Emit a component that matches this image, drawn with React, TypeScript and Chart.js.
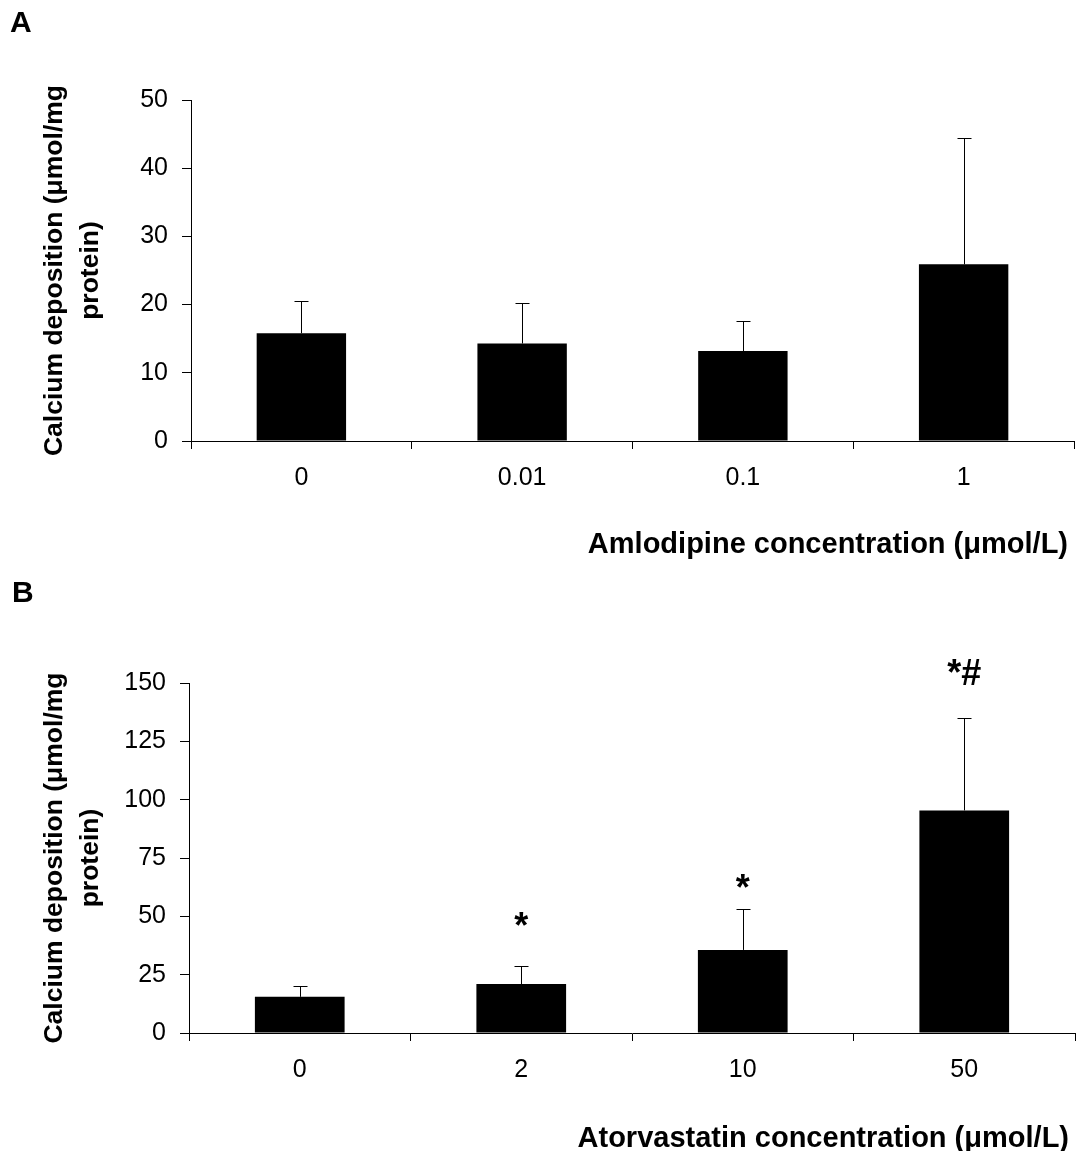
import React, { useEffect, useRef } from 'react';
import { Chart, registerables } from 'chart.js';

Chart.register(...registerables);

const FONT = '"Liberation Sans", Arial, Helvetica, sans-serif';

// ---- Panel A data ----
const amlodipineLabels = ['0', '0.01', '0.1', '1'];
const amlodipineMeans = [15.8, 14.3, 13.2, 25.9];
const amlodipineSD = [4.8, 6.0, 4.4, 18.5];

// ---- Panel B data ----
const atorvastatinLabels = ['0', '2', '10', '50'];
const atorvastatinMeans = [15.5, 21.0, 35.6, 95.4];
const atorvastatinSD = [4.5, 7.7, 17.4, 39.8];
const atorvastatinMarks = ['', '*', '*', '*#'];
const atorvastatinMarkLevels = [null, 40.8, 57.2, 149];

const yTitleLines = ['Calcium deposition (\u03bcmol/mg', 'protein)'];
const xTitleA = 'Amlodipine concentration (\u03bcmol/L)';
const xTitleB = 'Atorvastatin concentration (\u03bcmol/L)';

const errorBarPlugin = {
  id: 'errorBars',
  afterDatasetsDraw(chart: any) {
    const ctx = chart.ctx;
    const yScale = chart.scales.y;
    chart.data.datasets.forEach((ds: any, di: number) => {
      const meta = chart.getDatasetMeta(di);
      if (!ds.errors) return;
      meta.data.forEach((bar: any, i: number) => {
        const v = ds.data[i];
        const e = ds.errors[i];
        if (v == null || e == null) return;
        const x = Math.round(bar.x) + 0.5;
        const yTop = Math.round(yScale.getPixelForValue(v + e)) + 0.5;
        const yBar = bar.y;
        ctx.save();
        ctx.strokeStyle = '#000';
        ctx.lineWidth = 1;
        ctx.beginPath();
        ctx.moveTo(x, yBar);
        ctx.lineTo(x, yTop);
        ctx.moveTo(x - 7, yTop);
        ctx.lineTo(x + 7, yTop);
        ctx.stroke();
        ctx.restore();
      });
    });
  },
};

const markPlugin = {
  id: 'sigMarks',
  afterDatasetsDraw(chart: any) {
    const ctx = chart.ctx;
    const yScale = chart.scales.y;
    chart.data.datasets.forEach((ds: any, di: number) => {
      if (!ds.marks) return;
      const meta = chart.getDatasetMeta(di);
      meta.data.forEach((bar: any, i: number) => {
        const txt = ds.marks[i];
        const lvl = ds.markLevels[i];
        if (!txt || lvl == null) return;
        ctx.save();
        ctx.fillStyle = '#000';
        ctx.font = `bold 36px ${FONT}`;
        ctx.textAlign = 'center';
        ctx.textBaseline = 'alphabetic';
        ctx.fillText(txt, bar.x, yScale.getPixelForValue(lvl));
        ctx.restore();
      });
    });
  },
};

// Panel letter and the right-aligned x-axis caption
const captionPlugin = {
  id: 'captions',
  afterDraw(chart: any, _args: any, opts: any) {
    if (!opts) return;
    const ctx = chart.ctx;
    ctx.save();
    ctx.fillStyle = '#000';
    ctx.textBaseline = 'alphabetic';
    if (opts.letter) {
      ctx.font = `bold 30px ${FONT}`;
      ctx.textAlign = 'left';
      ctx.fillText(opts.letter, opts.letterX, opts.letterY);
    }
    if (opts.xTitle) {
      ctx.font = `bold 29px ${FONT}`;
      ctx.textAlign = 'right';
      ctx.fillText(opts.xTitle, chart.chartArea.right - opts.xTitleInset, opts.xTitleY);
    }
    ctx.restore();
  },
};

interface PanelParams {
  labels: string[];
  means: number[];
  sd: number[];
  marks?: string[];
  markLevels?: (number | null)[];
  yMax: number;
  step: number;
  xTitle: string;
  xTitleY: number;
  padTop: number;
  padRight: number;
  yWidth: number;
  xHeight: number;
  letter: string;
  letterX: number;
  letterY: number;
}

function makeConfig(p: PanelParams): any {
  return {
    type: 'bar',
    data: {
      labels: p.labels,
      datasets: [
        {
          data: p.means,
          errors: p.sd,
          marks: p.marks,
          markLevels: p.markLevels,
          backgroundColor: '#000',
          borderWidth: 0,
          categoryPercentage: 1,
          barPercentage: 0.405,
        },
      ],
    },
    options: {
      responsive: false,
      animation: false,
      devicePixelRatio: 1,
      layout: { padding: { top: p.padTop, right: p.padRight, left: 0, bottom: 0 } },
      plugins: {
        legend: { display: false },
        tooltip: { enabled: false },
        title: { display: false },
        captions: {
          letter: p.letter,
          letterX: p.letterX,
          letterY: p.letterY,
          xTitle: p.xTitle,
          xTitleY: p.xTitleY,
          xTitleInset: 6,
        },
      },
      scales: {
        x: {
          offset: true,
          grid: {
            offset: true,
            drawOnChartArea: false,
            drawTicks: true,
            tickLength: 8,
            color: '#000',
            lineWidth: 1,
          },
          border: { display: true, color: '#000', width: 1 },
          ticks: {
            color: '#000',
            font: { family: FONT, size: 25 },
            padding: 14,
            maxRotation: 0,
            autoSkip: false,
          },
          title: { display: false },
          afterFit: (s: any) => {
            s.height = p.xHeight;
          },
        },
        y: {
          min: 0,
          max: p.yMax,
          ticks: {
            stepSize: p.step,
            color: '#000',
            font: { family: FONT, size: 25 },
            padding: 14,
          },
          grid: {
            drawOnChartArea: false,
            drawTicks: true,
            tickLength: 9,
            color: '#000',
            lineWidth: 1,
          },
          border: { display: true, color: '#000', width: 1 },
          title: {
            display: true,
            text: yTitleLines,
            color: '#000',
            font: { family: FONT, size: 26.5, weight: 'bold', lineHeight: 1.33 },
            padding: { top: 37.5, bottom: 0 },
          },
          afterFit: (s: any) => {
            s.width = p.yWidth;
          },
        },
      },
    },
    plugins: [errorBarPlugin, markPlugin, captionPlugin],
  };
}

function Panel({ params, top, height }: { params: PanelParams; top: number; height: number }) {
  const ref = useRef<HTMLCanvasElement>(null);
  useEffect(() => {
    if (!ref.current) return;
    const chart = new Chart(ref.current, makeConfig(params));
    return () => chart.destroy();
  }, []);
  return (
    <canvas
      ref={ref}
      width={1077}
      height={height}
      style={{ position: 'absolute', left: 0, top, width: 1077, height, display: 'block' }}
    />
  );
}

const panelA: PanelParams = {
  labels: amlodipineLabels,
  means: amlodipineMeans,
  sd: amlodipineSD,
  yMax: 50,
  step: 10,
  xTitle: xTitleA,
  xTitleY: 553,
  padTop: 100,
  padRight: 3,
  yWidth: 191,
  xHeight: 134,
  letter: 'A',
  letterX: 10,
  letterY: 32,
};

const panelB: PanelParams = {
  labels: atorvastatinLabels,
  means: atorvastatinMeans,
  sd: atorvastatinSD,
  marks: atorvastatinMarks,
  markLevels: atorvastatinMarkLevels,
  yMax: 150,
  step: 25,
  xTitle: xTitleB,
  xTitleY: 572,
  padTop: 108,
  padRight: 2,
  yWidth: 189,
  xHeight: 118,
  letter: 'B',
  letterX: 12,
  letterY: 27,
};

export default function App() {
  return (
    <div
      style={{
        position: 'absolute',
        left: 0,
        top: 0,
        width: 1077,
        height: 1151,
        overflow: 'hidden',
        background: '#fff',
      }}
    >
      <Panel params={panelA} top={0} height={575} />
      <Panel params={panelB} top={575} height={576} />
    </div>
  );
}
